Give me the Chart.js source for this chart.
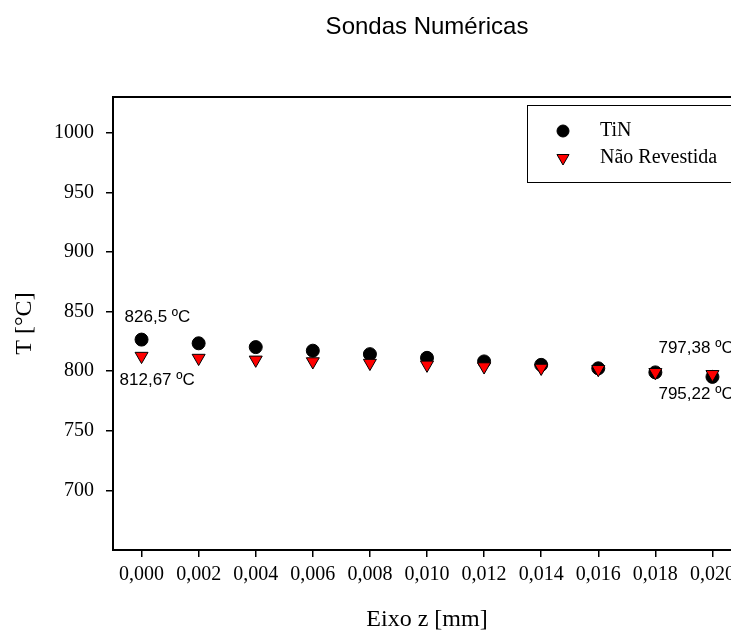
<!DOCTYPE html>
<html lang="pt">
<head>
<meta charset="utf-8" />
<title>Sondas Numéricas</title>
<script src="https://cdn.jsdelivr.net/npm/chart.js@4.4.1/dist/chart.umd.min.js"></script>
<style>
  html, body { margin: 0; padding: 0; background: #fff; overflow: hidden; }
  #wrap { width: 800px; height: 634px; }
</style>
</head>
<body>
<div id="wrap"><canvas id="sondas" width="800" height="634"></canvas></div>
<script>
// posições das sondas ao longo do eixo z [mm]
const eixoZ = [0.000, 0.002, 0.004, 0.006, 0.008, 0.010, 0.012, 0.014, 0.016, 0.018, 0.020];
// temperaturas lidas em cada sonda [ºC]
const tin = [826.5, 823.4, 820.2, 817.2, 814.3, 811.2, 808.2, 805.3, 802.4, 799.0, 795.22];
const naoRevestida = [812.67, 811.0, 809.5, 808.1, 806.8, 805.3, 803.9, 802.7, 801.6, 799.1, 797.38];
// marcações dos eixos
const xTicks = [0.000, 0.002, 0.004, 0.006, 0.008, 0.010, 0.012, 0.014, 0.016, 0.018, 0.020];
const xTickLabels = ["0,000", "0,002", "0,004", "0,006", "0,008", "0,010", "0,012", "0,014", "0,016", "0,018", "0,020"];
const yTicks = [700, 750, 800, 850, 900, 950, 1000];
// textos dos valores extremos
const rotuloTextos = ["826,5 ºC", "812,67 ºC", "797,38 ºC", "795,22 ºC"];

const serif = '"Liberation Serif", "Times New Roman", serif';
const sans = '"Liberation Sans", Arial, sans-serif';

// título, moldura, rótulos e legenda desenhados à mão
const extras = {
    id: 'extras',
    afterDraw(chart) {
        const {ctx, chartArea: a} = chart;
        ctx.save();
        ctx.strokeStyle = '#000';
        ctx.lineWidth = 2;
        ctx.beginPath();
        ctx.moveTo(a.left, a.top);
        ctx.lineTo(a.right, a.top);
        ctx.lineTo(a.right, a.bottom);
        ctx.stroke();

        ctx.fillStyle = '#000';
        ctx.font = '24px ' + sans;
        ctx.textAlign = 'center';
        ctx.textBaseline = 'middle';
        ctx.fillText('Sondas Numéricas', (a.left + a.right) / 2, 27);

        // onde vai cada rótulo (série, ponto, deslocamento)
        const ancoras = [
            {serie: 0, ponto: 0, dx: -17, dy: -22},
            {serie: 1, ponto: 0, dx: -22, dy: 24},
            {serie: 1, ponto: 10, dx: -54, dy: -26},
            {serie: 0, ponto: 10, dx: -54, dy: 17}
        ];
        ctx.font = '17px ' + sans;
        ctx.textAlign = 'left';
        ancoras.forEach((r, i) => {
            const p = chart.getDatasetMeta(r.serie).data[r.ponto];
            ctx.fillText(rotuloTextos[i], p.x + r.dx, p.y + r.dy);
        });

        // legenda
        ctx.lineWidth = 1;
        ctx.strokeRect(527.5, 105.5, 400, 77);
        ctx.font = '20px ' + serif;
        const ds = chart.data.datasets;
        [0, 1].forEach((k, i) => {
            const d = ds[k];
            const y = 131 + i * 27;
            ctx.fillStyle = d.backgroundColor;
            ctx.strokeStyle = d.borderColor;
            ctx.lineWidth = d.borderWidth;
            ctx.beginPath();
            Chart.helpers.drawPoint(ctx, {
                pointStyle: d.pointStyle, rotation: d.rotation || 0,
                radius: d.pointRadius - 0.5, borderWidth: d.borderWidth
            }, 563, y);
            ctx.fillStyle = '#000';
            ctx.fillText(d.label, 600, y);
        });
        ctx.restore();
    }
};

new Chart(document.getElementById('sondas'), {
    type: 'scatter',
    data: {
        datasets: [
            {
                label: 'TiN',
                data: eixoZ.map((z, i) => ({x: z, y: tin[i]})),
                pointStyle: 'circle',
                pointRadius: 6.5,
                backgroundColor: '#000',
                borderColor: '#000',
                borderWidth: 1,
                order: 1
            },
            {
                label: 'Não Revestida',
                data: eixoZ.map((z, i) => ({x: z, y: naoRevestida[i]})),
                pointStyle: 'triangle',
                rotation: 180,
                pointRadius: 7.5,
                backgroundColor: '#ff0000',
                borderColor: '#000',
                borderWidth: 1,
                order: 0
            }
        ]
    },
    options: {
        responsive: false,
        animation: false,
        events: [],
        layout: {padding: {top: 97, right: 59, left: 0, bottom: 0}},
        plugins: {legend: {display: false}, tooltip: {enabled: false}, title: {display: false}},
        scales: {
            x: {
                type: 'linear',
                min: -0.001,
                max: 0.021,
                afterBuildTicks: s => { s.ticks = xTicks.map(v => ({value: v})); },
                afterFit: s => { s.height = 84; },
                ticks: {
                    color: '#000',
                    padding: 6,
                    maxRotation: 0,
                    autoSkip: false,
                    font: {family: serif, size: 20},
                    callback: (v, i) => xTickLabels[i]
                },
                grid: {display: true, drawOnChartArea: false, drawTicks: true, tickLength: 7, color: '#000', lineWidth: 1.5},
                border: {display: true, color: '#000', width: 2},
                title: {display: true, text: 'Eixo z [mm]', color: '#000', font: {family: serif, size: 24}, padding: {top: 0, bottom: 0}}
            },
            y: {
                min: 650,
                max: 1030,
                afterBuildTicks: s => { s.ticks = yTicks.map(v => ({value: v})); },
                afterFit: s => { s.width = 113; },
                ticks: {
                    color: '#000',
                    padding: 12,
                    font: {family: serif, size: 20},
                    callback: v => String(v)
                },
                grid: {display: true, drawOnChartArea: false, drawTicks: true, tickLength: 7, color: '#000', lineWidth: 1.5},
                border: {display: true, color: '#000', width: 2},
                title: {display: true, text: 'T [°C]', color: '#000', font: {family: serif, size: 24}, padding: {top: 10, bottom: 0}}
            }
        }
    },
    plugins: [extras]
});
</script>
</body>
</html>
